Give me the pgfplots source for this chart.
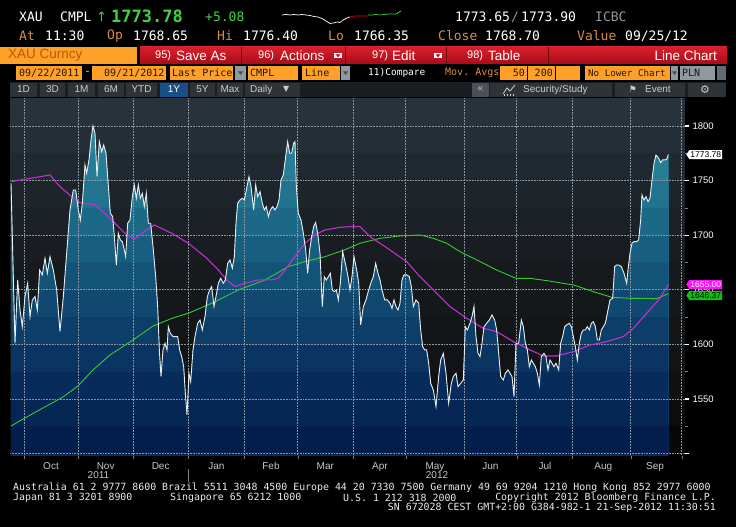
\documentclass[border=0pt]{standalone}
\usepackage{pgfplots}
\pgfplotsset{compat=1.18}
\usepackage{pgfplotstable}
\usetikzlibrary{shapes.symbols}
\usepackage{fontspec}
\setmainfont{Liberation Sans}
\setmonofont{DejaVu Sans Mono}
\newfontfamily\dvs{DejaVu Sans}
\definecolor{bbOrange}{HTML}{FFA028}
\definecolor{bbTan}{HTML}{D98C4A}
\definecolor{bbGreen}{HTML}{3FD43F}
\definecolor{bbRedTop}{HTML}{D8202C}
\definecolor{bbRedBot}{HTML}{A80C18}
\definecolor{bbSep}{HTML}{70060E}
\definecolor{bbGray}{HTML}{9098A0}
\definecolor{btnBg}{HTML}{2E3338}
\definecolor{btnTx}{HTML}{C8CDD2}
\definecolor{stripBg}{HTML}{1A1E22}
\definecolor{gridC}{HTML}{8A96A0}
\definecolor{priceC}{HTML}{E6EEF2}
\definecolor{maC}{HTML}{C030D0}
\definecolor{ma2C}{HTML}{38C838}
\definecolor{monthC}{HTML}{C4C8CC}
\definecolor{tagMag}{HTML}{FF10FF}
\definecolor{tagGreen}{HTML}{10C010}
\definecolor{oneYBlue}{HTML}{1A4F85}
\definecolor{chevBg}{HTML}{4A5056}
\definecolor{curncyTx}{HTML}{B8580A}
\definecolor{rowTx}{HTML}{281605}
% fill bands (top to bottom)
\definecolor{fa}{HTML}{3290A4}
\definecolor{fb}{HTML}{2C879D}
\definecolor{fc}{HTML}{267D95}
\definecolor{fd}{HTML}{21738E}
\definecolor{fe}{HTML}{1C6987}
\definecolor{ff}{HTML}{185E80}
\definecolor{fg}{HTML}{145378}
\definecolor{fh}{HTML}{104870}
\definecolor{fi}{HTML}{0D3E69}
\definecolor{fj}{HTML}{0A3562}
\definecolor{fk}{HTML}{072C5B}
\definecolor{fl}{HTML}{052554}
\definecolor{fm}{HTML}{031E4D}
% background bands
\definecolor{ba}{HTML}{27323B}
\definecolor{bb}{HTML}{242E36}
\definecolor{bc}{HTML}{202930}
\definecolor{bd}{HTML}{1D252B}
\definecolor{be}{HTML}{1B2126}
\definecolor{bf}{HTML}{191D21}
\definecolor{bg}{HTML}{171A1D}
\definecolor{bh}{HTML}{15181A}
\definecolor{bi}{HTML}{131517}
\definecolor{bj}{HTML}{111314}
\definecolor{bk}{HTML}{0E1011}
\definecolor{bl}{HTML}{0A0C0D}
\definecolor{bm}{HTML}{060707}

\pgfplotstableread{
x p
18 1747.5
30 1601.0
38 1659.0
45 1631.5
52 1616.2
60 1643.7
68 1655.9
75 1625.4
82 1640.7
90 1643.7
97 1631.5
104 1668.1
112 1663.6
120 1678.8
127 1665.1
135 1680.3
145 1668.1
155 1649.8
165 1611.7
175 1643.7
185 1683.4
195 1723.1
205 1741.4
212 1741.4
220 1723.1
226 1713.9
232 1729.2
240 1764.3
245 1756.7
252 1768.9
258 1787.2
264 1800.0
270 1793.3
276 1753.6
283 1785.7
290 1776.5
296 1782.6
303 1775.0
308 1753.6
316 1720.0
323 1717.0
328 1698.7
334 1672.7
340 1701.7
346 1695.6
352 1694.1
358 1686.4
362 1680.3
368 1710.9
375 1713.9
382 1735.3
388 1746.0
394 1733.8
400 1746.0
406 1733.8
412 1738.3
418 1726.1
424 1738.3
430 1710.9
437 1710.9
445 1686.4
452 1662.0
458 1634.6
463 1594.9
468 1570.5
474 1594.9
480 1601.0
486 1594.9
490 1616.2
496 1610.1
504 1607.1
512 1607.1
518 1607.1
524 1594.9
530 1588.8
536 1579.6
541 1555.2
546 1535.4
552 1573.5
557 1565.9
564 1594.9
570 1607.1
578 1619.3
585 1622.3
592 1613.2
600 1625.4
607 1643.7
614 1649.8
620 1652.9
627 1634.6
633 1643.7
640 1655.9
647 1660.5
655 1655.9
661 1659.0
668 1674.2
675 1677.3
682 1669.7
688 1680.3
693 1710.9
698 1729.2
705 1732.2
712 1733.8
718 1732.2
724 1741.4
732 1753.6
738 1744.4
746 1723.1
752 1746.0
758 1735.3
765 1739.9
772 1729.2
778 1723.1
784 1726.1
790 1717.0
796 1723.1
803 1726.1
810 1723.1
816 1726.1
822 1732.2
828 1750.5
835 1755.1
842 1771.9
848 1785.7
854 1775.0
860 1775.0
866 1784.1
870 1785.7
874 1744.4
880 1720.0
888 1713.9
895 1701.7
902 1686.4
908 1665.1
914 1686.4
920 1698.7
926 1707.8
932 1711.5
938 1701.7
945 1683.4
952 1634.6
958 1662.0
964 1659.0
970 1662.0
976 1665.1
982 1649.8
988 1648.3
994 1649.8
1000 1640.7
1006 1655.9
1013 1684.9
1021 1674.2
1029 1662.0
1035 1649.8
1041 1662.0
1047 1680.3
1055 1668.1
1061 1655.9
1067 1617.8
1075 1634.6
1083 1640.7
1091 1649.8
1099 1657.4
1105 1662.0
1112 1674.2
1119 1665.1
1125 1659.0
1131 1649.8
1139 1640.7
1147 1640.7
1155 1637.6
1161 1633.0
1167 1640.7
1173 1634.6
1179 1631.5
1185 1637.6
1191 1659.0
1197 1663.6
1205 1663.6
1213 1662.0
1219 1652.9
1225 1634.6
1233 1640.7
1241 1637.6
1247 1613.2
1253 1597.9
1259 1594.9
1265 1594.9
1271 1582.7
1277 1564.3
1285 1558.2
1293 1543.0
1301 1570.5
1307 1585.7
1315 1591.8
1323 1573.5
1331 1546.0
1339 1564.3
1345 1570.5
1353 1573.5
1359 1561.3
1367 1564.3
1375 1567.4
1381 1616.2
1387 1613.2
1395 1619.3
1401 1625.4
1407 1634.6
1413 1607.1
1419 1591.8
1425 1588.8
1431 1601.0
1437 1616.2
1445 1619.3
1453 1622.3
1461 1626.9
1469 1622.3
1475 1613.2
1481 1591.8
1487 1570.5
1495 1567.4
1501 1573.5
1509 1576.6
1515 1573.5
1521 1570.5
1527 1552.1
1533 1601.0
1541 1601.0
1549 1622.3
1555 1616.2
1561 1601.0
1567 1594.9
1573 1579.6
1579 1585.7
1585 1582.7
1591 1579.6
1597 1573.5
1603 1562.8
1609 1588.8
1617 1591.8
1623 1588.8
1629 1576.6
1635 1585.7
1641 1582.7
1647 1579.6
1653 1582.7
1661 1576.6
1667 1601.0
1673 1607.1
1679 1616.2
1685 1617.8
1693 1619.3
1699 1616.2
1705 1607.1
1711 1597.9
1717 1585.7
1723 1601.0
1729 1610.1
1735 1613.2
1741 1613.2
1747 1616.2
1753 1613.2
1759 1619.3
1765 1620.8
1771 1616.2
1777 1604.0
1783 1604.0
1789 1613.2
1795 1616.2
1801 1619.3
1807 1628.5
1815 1640.7
1823 1642.2
1829 1671.2
1835 1672.7
1841 1672.7
1849 1671.2
1857 1665.1
1865 1655.9
1869 1668.1
1875 1683.4
1881 1692.6
1887 1694.1
1895 1694.1
1901 1695.6
1907 1713.9
1911 1736.8
1917 1732.2
1923 1735.3
1929 1730.7
1935 1733.8
1941 1750.5
1947 1765.8
1953 1773.4
1961 1770.4
1967 1766.4
1973 1768.9
1979 1768.9
1985 1769.5
1990 1773.78
}\price

\pgfplotstableread{
x p
18 1749.0
135 1755.1
165 1744.4
200 1735.3
225 1729.8
270 1727.7
300 1720.0
330 1710.9
360 1701.7
388 1696.2
410 1701.7
448 1709.3
500 1701.7
550 1692.6
600 1680.3
640 1668.1
665 1659.0
690 1652.9
720 1655.9
760 1659.0
800 1659.0
820 1660.5
840 1668.1
870 1680.3
900 1692.6
930 1700.2
960 1704.8
1005 1707.2
1035 1707.8
1065 1707.8
1095 1698.7
1155 1686.4
1205 1675.8
1245 1662.0
1285 1649.8
1335 1634.6
1385 1623.9
1435 1614.7
1475 1611.7
1525 1602.5
1575 1594.9
1615 1589.4
1655 1589.4
1705 1593.3
1755 1599.4
1805 1602.5
1855 1607.1
1885 1614.7
1925 1628.5
1965 1642.2
1990 1655.0
}\mafifty

\pgfplotstableread{
x p
18 1525.3
60 1532.6
114 1541.8
174 1551.8
219 1561.9
264 1576.6
315 1590.3
384 1604.0
444 1616.8
504 1624.2
550 1628.5
620 1637.6
700 1649.8
780 1659.0
850 1671.2
900 1675.8
960 1680.3
1018 1686.4
1065 1692.6
1125 1697.1
1185 1699.3
1245 1700.2
1285 1697.1
1325 1692.6
1365 1684.9
1425 1675.8
1475 1668.1
1533 1660.5
1575 1660.5
1625 1658.4
1705 1654.4
1765 1648.3
1820 1643.1
1875 1642.2
1955 1641.9
1990 1646.37
}\matwohundred

\begin{document}
\begin{tikzpicture}
\begin{scope}[x=1pt,y=1pt]
\fill[black, even odd rule] (0,0) rectangle (736,-527) (10,-98) rectangle (685,-455);

% ---------- header row 1
\begin{scope}[every node/.style={anchor=west, inner sep=0pt, font=\ttfamily\fontsize{13}{13}\selectfont}]
\node[text=white] at (19,-17) {XAU};
\node[text=white] at (60,-17) {CMPL};
\node[text=bbGreen, font=\dvs\fontsize{13}{13}\selectfont] at (96,-17) {↑};
\node[text=bbGreen, font=\ttfamily\bfseries\fontsize{17}{17}\selectfont] at (111,-16) {1773.78};
\node[text=bbGreen] at (205,-17) {+5.08};
\node[text=white] at (455,-17) {1773.65};
\node[text=bbGray] at (511,-17) {/};
\node[text=white] at (521,-17) {1773.90};
\node[text=bbGray] at (595,-17) {ICBC};
% row 2
\node[text=bbTan] at (19,-36) {At};
\node[text=white] at (45,-36) {11:30};
\node[text=bbTan] at (107,-36) {Op};
\node[text=white] at (133,-36) {1768.65};
\node[text=bbTan] at (217,-36) {Hi};
\node[text=white] at (243,-36) {1776.40};
\node[text=bbTan] at (328,-36) {Lo};
\node[text=white] at (354,-36) {1766.35};
\node[text=bbTan] at (438,-36) {Close};
\node[text=white] at (485,-36) {1768.70};
\node[text=bbTan] at (577,-36) {Value};
\node[text=white] at (625,-36) {09/25/12};
\end{scope}

% ---------- row 3 (orange + red bar)
\fill[bbOrange] (0,-47) rectangle (137,-64);
\node[anchor=west, inner sep=0pt, text=curncyTx, font=\fontsize{13.5}{14}\selectfont] at (8,-55.5) {XAU Curncy};
\shade[top color=bbRedTop, bottom color=bbRedBot] (140,-47) rectangle (727,-64);
\foreach \sx in {241,345,446,548} {\draw[bbSep, line width=1pt] (\sx,-47) -- (\sx,-64);}
\begin{scope}[every node/.style={anchor=west, inner sep=0pt, text=white, font=\fontsize{13.5}{14}\selectfont}]
\node[font=\fontsize{11}{12}\selectfont] at (155,-55.5) {95)};
\node at (176,-55.5) {Save As};
\node[font=\fontsize{11}{12}\selectfont] at (258,-55.5) {96)};
\node at (280,-55.5) {Actions};
\node[font=\fontsize{11}{12}\selectfont] at (372,-55.5) {97)};
\node at (392,-55.5) {Edit};
\node[font=\fontsize{11}{12}\selectfont] at (467,-55.5) {98)};
\node at (488,-55.5) {Table};
\node[anchor=east] at (717,-55.5) {Line Chart};
\end{scope}
\fill[white] (334,-53) rectangle (342,-58.5);
\fill[bbRedBot] (335.5,-54.3) -- (340.5,-54.3) -- (338,-57.2) -- cycle;
\fill[white] (434,-53) rectangle (442,-58.5);
\fill[bbRedBot] (435.5,-54.3) -- (440.5,-54.3) -- (438,-57.2) -- cycle;

% ---------- row 4
\fill[bbOrange] (16,-66) rectangle (82,-80);
\fill[bbOrange] (92,-66) rectangle (166,-80);
\fill[bbOrange] (170,-66) rectangle (233,-80);
\fill[bbGray] (235,-66) rectangle (246,-80);
\fill[bbOrange] (248,-66) rectangle (298,-80);
\fill[bbOrange] (302,-66) rectangle (340,-80);
\fill[bbGray] (341,-66) rectangle (350,-80);
\fill[bbOrange] (500,-66) rectangle (527,-80);
\fill[bbOrange] (528,-66) rectangle (555,-80);
\fill[bbOrange] (556,-66) rectangle (580,-80);
\fill[bbOrange] (585,-66) rectangle (670,-80);
\fill[bbGray] (671,-66) rectangle (678,-80);
\fill[bbGray] (680,-66) rectangle (715,-80);
\fill[bbGray!70!black] (717,-66) rectangle (726,-80);
\begin{scope}[every node/.style={anchor=west, inner sep=0pt, text=rowTx, font=\ttfamily\fontsize{10}{10}\selectfont}]
\node at (19,-73) {09/22/2011};
\node[text=white] at (84.5,-73) {-};
\node at (104,-73) {09/21/2012};
\node at (172,-73) {Last Price};
\node at (250,-73) {CMPL};
\node at (305,-73) {Line};
\node[text=white, font=\ttfamily\fontsize{9.5}{10}\selectfont] at (368,-73) {11)Compare};
\node[text=bbTan] at (445,-73) {Mov. Avgs};
\node[anchor=east] at (525,-73) {50};
\node[anchor=east] at (553,-73) {200};
\node[font=\ttfamily\fontsize{9.2}{10}\selectfont] at (588,-73) {No Lower Chart};
\node at (682,-73) {PLN};
\end{scope}
\foreach \dx in {240.5,345.5,674.5} {\fill[black!70] (\dx-2.5,-71.5) -- (\dx+2.5,-71.5) -- (\dx,-75) -- cycle;}

% ---------- row 5
\fill[stripBg] (10,-82) rectangle (726,-97);
\foreach \a/\b in {10/37,40/65,68/95,98/124,126/157,190/215,217/243,245/300} {\fill[btnBg] (\a,-82.5) rectangle (\b,-96.5);}
\fill[oneYBlue] (160,-82.5) rectangle (188,-96.5);
\fill[chevBg] (472,-82.5) rectangle (489,-96.5);
\fill[btnBg] (490,-82.5) rectangle (612,-96.5);
\fill[btnBg] (615,-82.5) rectangle (685,-96.5);
\fill[btnBg] (688,-82.5) rectangle (726,-96.5);
\begin{scope}[every node/.style={inner sep=0pt, text=btnTx, font=\fontsize{10}{10}\selectfont}]
\node at (23.5,-89.5) {1D};
\node at (52.5,-89.5) {3D};
\node at (81.5,-89.5) {1M};
\node at (111,-89.5) {6M};
\node at (141.5,-89.5) {YTD};
\node[text=white] at (174,-89.5) {1Y};
\node at (202.5,-89.5) {5Y};
\node at (230,-89.5) {Max};
\node[anchor=west] at (250,-89.5) {Daily};
\node[anchor=west, font=\dvs\fontsize{8}{8}\selectfont] at (283,-89.5) {▼};
\node at (480.5,-89.5) {«};
\node[anchor=west] at (523,-89.5) {Security/Study};
\node[anchor=west] at (645,-89.5) {Event};
\node[font=\dvs\fontsize{11}{11}\selectfont] at (705,-89.5) {⚙};
\node[font=\dvs\fontsize{9}{9}\selectfont] at (633,-89.5) {⚑};
\end{scope}
\draw[btnTx, line width=0.8pt] (503,-94) -- (507,-88) -- (510,-91) -- (515,-85);
\foreach \bx in {504,507,510,513} {\draw[btnTx, line width=0.8pt] (\bx,-95.5) -- (\bx,-93.5);}
\end{scope}

% ---------- sparkline
\begin{axis}[at={(282pt,-24pt)}, anchor=south west, scale only axis,
  width=119pt, height=14pt, hide axis, xmin=282, xmax=401, ymin=7, ymax=21, clip=false]
\addplot[white, line width=0.7pt] coordinates {(282,16)(286,16.5)(290,16)(294,16.5)(298,16)(302,16.5)(306,16)(310,15.5)(314,14.5)(318,14)(322,12.5)(326,10)(330,7.5)(333,8)(337,9)(340,8.5)(343,11)(347,13)(350,14)};
\addplot[red, line width=0.7pt] coordinates {(350,14)(354,15)(358,15)(362,15)(366,15)(368,15)};
\addplot[bbGreen, line width=0.7pt] coordinates {(368,16)(372,16)(376,16.5)(380,16)(384,16.5)(388,17)(392,17)(396,17)(401,20)};
\end{axis}

% ---------- main chart
\begin{axis}[
  at={(10pt,-455pt)}, anchor=south west,
  scale only axis, width=675pt, height=357pt,
  xmin=15, xmax=2040, ymin=1498.7, ymax=1825.6,
  axis line style={draw=none},
  axis on top,
  xtick={138,302,467,634,798,961,1125,1290,1456,1620,1795,1950},
  xticklabels={Oct,Nov,Dec,Jan,Feb,Mar,Apr,May,Jun,Jul,Aug,Sep},
  xtick pos=bottom, ytick pos=right,
  tick align=outside,
  xticklabel style={font=\fontsize{10}{10}\selectfont, text=monthC},
  ytick={1500,1550,...,1800},
  yticklabels={,1550,1600,1650,1700,1750,1800},
  minor y tick num=1,
  yticklabel pos=right,
  yticklabel style={font=\fontsize{9.5}{10}\selectfont, text=white},
  major tick length=4pt, minor tick length=3pt,
  major x tick style={draw=none},
  major y tick style={color=white, line width=1.3pt},
  minor y tick style={color=gray, line width=0.6pt},
]
\fill[ba] (15,1800) rectangle (2040,1825.6);
\fill[bb] (15,1775) rectangle (2040,1800);
\fill[bc] (15,1750) rectangle (2040,1775);
\fill[bd] (15,1725) rectangle (2040,1750);
\fill[be] (15,1700) rectangle (2040,1725);
\fill[bf] (15,1675) rectangle (2040,1700);
\fill[bg] (15,1650) rectangle (2040,1675);
\fill[bh] (15,1625) rectangle (2040,1650);
\fill[bi] (15,1600) rectangle (2040,1625);
\fill[bj] (15,1575) rectangle (2040,1600);
\fill[bk] (15,1550) rectangle (2040,1575);
\fill[bl] (15,1525) rectangle (2040,1550);
\fill[bm] (15,1498.7) rectangle (2040,1525);
% banded area under the price (painted from the top band down)
\addplot[fill=fa, draw=none, forget plot] table[x=x, y=p] {\price} \closedcycle;
\addplot[fill=fb, draw=none, forget plot] table[x=x, y expr={min(\thisrow{p},1800)}] {\price} \closedcycle;
\addplot[fill=fc, draw=none, forget plot] table[x=x, y expr={min(\thisrow{p},1775)}] {\price} \closedcycle;
\addplot[fill=fd, draw=none, forget plot] table[x=x, y expr={min(\thisrow{p},1750)}] {\price} \closedcycle;
\addplot[fill=fe, draw=none, forget plot] table[x=x, y expr={min(\thisrow{p},1725)}] {\price} \closedcycle;
\addplot[fill=ff, draw=none, forget plot] table[x=x, y expr={min(\thisrow{p},1700)}] {\price} \closedcycle;
\addplot[fill=fg, draw=none, forget plot] table[x=x, y expr={min(\thisrow{p},1675)}] {\price} \closedcycle;
\addplot[fill=fh, draw=none, forget plot] table[x=x, y expr={min(\thisrow{p},1650)}] {\price} \closedcycle;
\addplot[fill=fi, draw=none, forget plot] table[x=x, y expr={min(\thisrow{p},1625)}] {\price} \closedcycle;
\addplot[fill=fj, draw=none, forget plot] table[x=x, y expr={min(\thisrow{p},1600)}] {\price} \closedcycle;
\addplot[fill=fk, draw=none, forget plot] table[x=x, y expr={min(\thisrow{p},1575)}] {\price} \closedcycle;
\addplot[fill=fl, draw=none, forget plot] table[x=x, y expr={min(\thisrow{p},1550)}] {\price} \closedcycle;
\addplot[fill=fm, draw=none, forget plot] table[x=x, y expr={min(\thisrow{p},1525)}] {\price} \closedcycle;
% dotted grid (month boundaries and 50-point levels)
\pgfplotsinvokeforeach{57,220,385,550,718,878,1045,1202,1377,1535,1702,1877,2030}{
  \draw[densely dotted, gridC, line width=0.55pt] (#1,1498.7) -- (#1,1825.6);
}
\pgfplotsinvokeforeach{1500,1550,1600,1650,1700,1750,1800}{
  \draw[densely dotted, gridC, line width=0.55pt] (15,#1) -- (2040,#1);
}
\addplot[ma2C, line width=0.9pt] table[x=x,y=p] {\matwohundred};
\addplot[maC, line width=1.1pt] table[x=x,y=p] {\mafifty};
\addplot[priceC, line width=0.9pt] table[x=x,y=p] {\price};
\end{axis}

\begin{scope}[x=1pt,y=1pt]
% month-boundary tick marks under the plot
\foreach \tx in {24,78,133,188,244,298,353,406,464,517,572,631,682} {\draw[gray, line width=0.6pt] (\tx,-455.5) -- (\tx,-458.5);}
% last-value tags
\begin{scope}[every node/.style={signal, signal to=west, signal pointer angle=110, inner xsep=1pt, inner ysep=1.5pt, text height=6pt, text depth=0pt, font=\fontsize{8.5}{9}\selectfont, anchor=west}]
\node[fill=tagGreen, text=black] at (686,-295.5) {1646.37};
\node[fill=tagMag, text=white] at (686,-284.5) {1655.00};
\node[fill=white, text=black] at (686,-154.6) {1773.78};
\end{scope}

% year labels
\node[text=monthC, inner sep=0pt, font=\fontsize{10}{10}\selectfont] at (98.5,-475) {2011};
\node[text=monthC, inner sep=0pt, font=\fontsize{10}{10}\selectfont] at (437,-475) {2012};
\draw[gray, line width=0.6pt] (188,-469) -- (188,-482);

% footer
\begin{scope}[every node/.style={anchor=west, inner sep=0pt, text=white!92!black, font=\ttfamily\fontsize{9.9}{10}\selectfont}]
\node at (13,-487.5) {Australia 61 2 9777 8600 Brazil 5511 3048 4500 Europe 44 20 7330 7500 Germany 49 69 9204 1210 Hong Kong 852 2977 6000};
\node at (13,-497.5) {Japan 81 3 3201 8900};
\node at (170,-497.5) {Singapore 65 6212 1000};
\node at (343,-497.5) {U.S. 1 212 318 2000};
\node[anchor=east] at (716,-497.5) {Copyright 2012 Bloomberg Finance L.P.};
\node[anchor=east] at (716,-507.5) {SN 672028 CEST GMT+2:00 G384-982-1 21-Sep-2012 11:30:51};
\end{scope}

\pgfresetboundingbox
\path[use as bounding box] (0,0) rectangle (736,-527);
\end{scope}
\end{tikzpicture}
\end{document}
